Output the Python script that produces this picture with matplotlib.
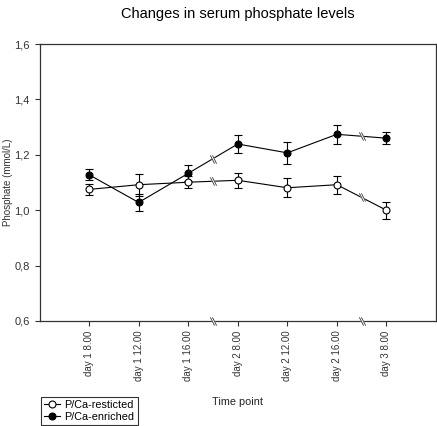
import matplotlib
matplotlib.use("Agg")
import matplotlib.pyplot as plt
from matplotlib.path import Path
from matplotlib.lines import Line2D
from matplotlib.ticker import FuncFormatter

plt.rcParams['font.family'] = ['Liberation Sans', 'DejaVu Sans']

time_points = ["day 1 8.00", "day 1 12.00", "day 1 16.00", "day 2 8.00",
               "day 2 12.00", "day 2 16.00", "day 3 8.00"]
restricted = [1.075, 1.092, 1.101, 1.108, 1.081, 1.092, 1.000]
restricted_err = [0.020, 0.039, 0.022, 0.028, 0.035, 0.032, 0.030]
enriched = [1.128, 1.028, 1.133, 1.239, 1.207, 1.274, 1.260]
enriched_err = [0.020, 0.031, 0.029, 0.033, 0.039, 0.034, 0.022]
break_after = [3, 6]  # breaks between these positions and the next
y_ticks = [0.6, 0.8, 1.0, 1.2, 1.4, 1.6]

x = list(range(1, len(time_points) + 1))

fig = plt.figure(figsize=(4.37, 4.26), dpi=100)
ax = fig.add_axes([0.0904, 0.2465, 0.9073, 0.6502])

common = dict(color='black', lw=0.8, capsize=3.2, capthick=0.8,
              elinewidth=0.8, markersize=5.0, markeredgewidth=0.8, zorder=3)
ax.errorbar(x, restricted, yerr=restricted_err, fmt='-o',
            markerfacecolor='white', markeredgecolor='black', **common)
ax.errorbar(x, enriched, yerr=enriched_err, fmt='-o',
            markerfacecolor='black', markeredgecolor='black', **common)

# break marks
gap_path = Path([(-0.5, 1.0), (0.5, -1.0)], [Path.MOVETO, Path.LINETO])
mark_path = Path([(-0.75, 1.0), (0.25, -1.0), (-0.25, 1.0), (0.75, -1.0)],
                 [Path.MOVETO, Path.LINETO, Path.MOVETO, Path.LINETO])
for b in break_after:
    xm = (x[b - 1] + x[b]) / 2
    for series in (restricted, enriched):
        ym = (series[b - 1] + series[b]) / 2
        ax.plot([xm], [ym], marker=gap_path, markersize=6, color='white',
                markeredgewidth=2.2, zorder=4)
        ax.plot([xm], [ym], marker=mark_path, markersize=6, color='#333333',
                markeredgewidth=0.6, zorder=5)
    ax.plot([xm], [0], marker=gap_path, markersize=6, color='white',
            markeredgewidth=2.2, zorder=6, transform=ax.get_xaxis_transform(),
            clip_on=False)
    ax.plot([xm], [0], marker=mark_path, markersize=6, color='#333333',
            markeredgewidth=0.6, zorder=7, transform=ax.get_xaxis_transform(),
            clip_on=False)

ax.set_xlim(0, len(time_points) + 1)
ax.set_ylim(0.6, 1.6)
ax.set_xticks(x)
ax.set_xticklabels(time_points, rotation=90, fontsize=7, color='#333333')
ax.set_yticks(y_ticks)
ax.yaxis.set_major_formatter(FuncFormatter(lambda v, p: f"{v:.1f}".replace('.', ',')))
ax.tick_params(axis='y', labelsize=8, colors='#333333', length=3.5, width=0.8)
ax.tick_params(axis='x', length=3.5, width=0.8, colors='#333333')
for s in ax.spines.values():
    s.set_linewidth(0.9)
    s.set_color('#333333')

ax.set_ylabel('Phosphate (mmol/L)', fontsize=7.0, color='#333333')
ax.yaxis.set_label_coords(-0.066, 0.5)
ax.set_xlabel('Time point', fontsize=7.8, color='#222222')
ax.xaxis.set_label_coords(0.5, -0.274)

fig.text(0.545, 0.984, 'Changes in serum phosphate levels', ha='center',
         va='top', fontsize=10.5)

hr = Line2D([], [], color='black', lw=0.8, marker='o', markersize=5,
            markerfacecolor='white', markeredgecolor='black', markeredgewidth=0.8)
he = Line2D([], [], color='black', lw=0.8, marker='o', markersize=5,
            markerfacecolor='black', markeredgecolor='black', markeredgewidth=0.8)
leg = fig.legend([hr, he], ['P/Ca-resticted', 'P/Ca-enriched'],
                 loc='lower left', bbox_to_anchor=(0.093, 0.002),
                 fontsize=7.8, frameon=True, fancybox=False, handlelength=1.5,
                 handletextpad=0.4, borderpad=0.3, labelspacing=0.15,
                 borderaxespad=0)
leg.get_frame().set_edgecolor('black')
leg.get_frame().set_linewidth(0.8)

fig.savefig('out.png', dpi=100)
